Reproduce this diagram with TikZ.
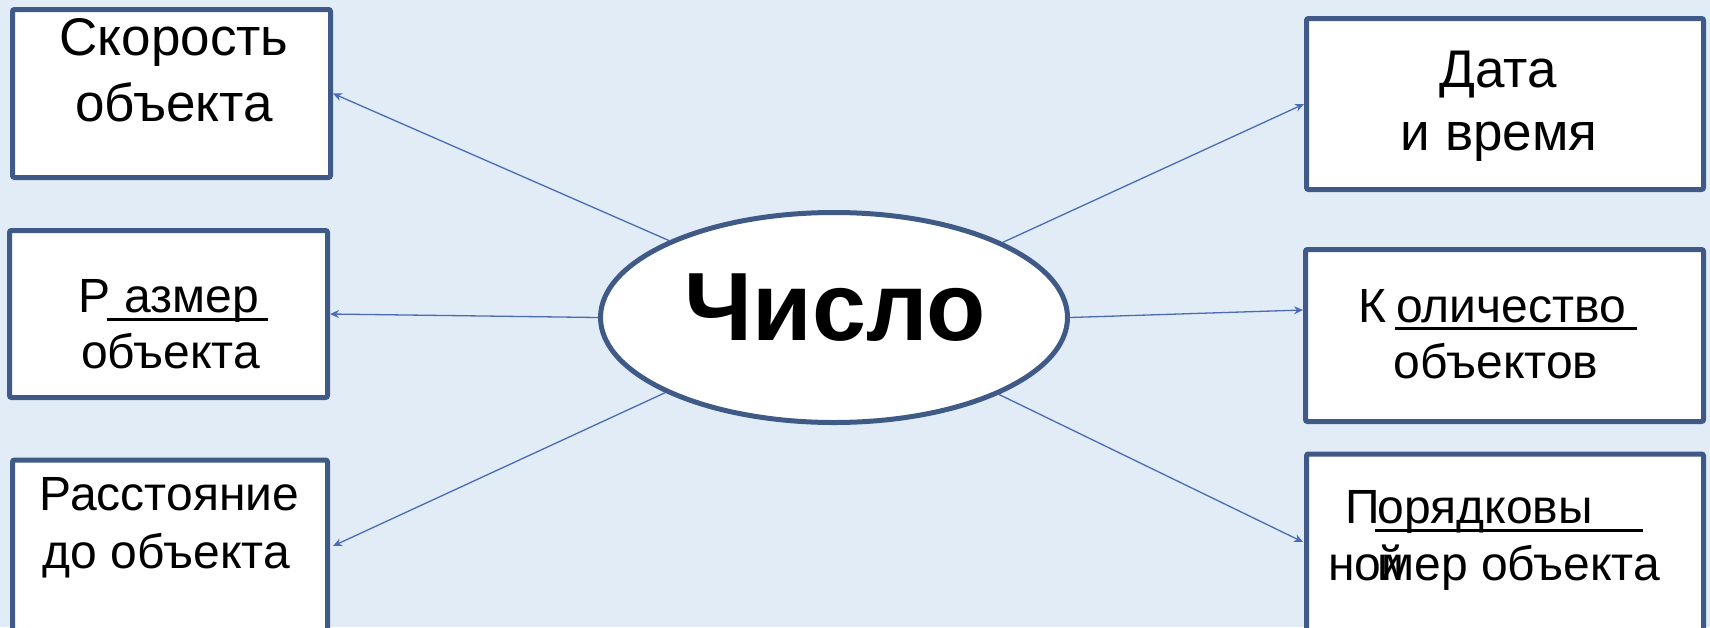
\documentclass[tikz,border=0pt]{standalone}
\usepackage{fontspec}
\setmainfont{Liberation Sans}
\usetikzlibrary{shapes.geometric,arrows.meta}
\definecolor{bgc}{HTML}{E2ECF7}
\definecolor{bordc}{HTML}{405A88}
\definecolor{linec}{HTML}{4A6BB8}
\tikzset{
  box/.style={draw=bordc, line width=5pt, fill=white, rounded corners=2pt, inner sep=0pt},
  oval/.style={ellipse, draw=bordc, line width=5pt, fill=white, inner sep=0pt},
  conn/.style={draw=linec, line width=1.3pt, -{Stealth[length=9pt,width=8pt,inset=3pt]}},
  txt/.style={inner sep=0pt, anchor=base, font=\fontsize{48}{48}\selectfont},
  txtbig/.style={inner sep=0pt, anchor=base, font=\fontsize{53}{53}\selectfont},
  txtw/.style={inner sep=0pt, anchor=base west, font=\fontsize{48}{48}\selectfont},
  uline/.style={draw=black, line width=3pt}
}
\begin{document}
\begin{tikzpicture}[x=1pt,y=-1pt]
\useasboundingbox (0,0) rectangle (1710,627);
\clip (0,0) rectangle (1710,627);
\fill[bgc] (0,0) rectangle (1710,627);

% central ellipse
\node[oval, minimum width=467pt, minimum height=210pt] (ell) at (834,317.5) {};
\node[inner sep=0pt, anchor=base, font=\fontsize{97}{97}\selectfont\bfseries] (title) at (835,340) {Число};

% boxes
\node[box, minimum width=318pt, minimum height=168pt] (b1) at (171.5,93.5) {};
\node[box, minimum width=318pt, minimum height=167pt] (b2) at (168.5,314) {};
\node[box, minimum width=315pt, minimum height=190pt] (b3) at (170,555) {};
\node[box, minimum width=397pt, minimum height=171pt] (b4) at (1505,104) {};
\node[box, minimum width=398pt, minimum height=172pt] (b5) at (1504.5,335.5) {};
\node[box, minimum width=397pt, minimum height=190pt] (b6) at (1505,549) {};

% texts
\node[txtbig] (t1a) at (174,55) {Скорость};
\node[txtbig] (t1b) at (174,121) {объекта};

\node[txtw] (t2a) at (78,312) {Р\hspace{14pt}азмер};
\draw[uline] (107,319) -- (268,319);
\node[txt] (t2b) at (170.5,368) {объекта};

\node[txt] (t3a) at (169.5,510) {Расстояние};
\node[txt] (t3b) at (166.5,568) {до объекта};

\node[txtbig] (t4a) at (1498,87) {Дата};
\node[txtbig] (t4b) at (1499,150) {и время};

\node[txtw] (t5a) at (1358,322) {К\hspace{10pt}оличество};
\draw[uline] (1395,328) -- (1637,328);
\node[txt] (t5b) at (1496,378) {объектов};

\node[txtw] (t6a) at (1345,523) {П\hspace{-2pt}орядковы};
\draw[uline] (1375,530) -- (1643,530);
\node[txtw] (t6b) at (1328,580) {но\makebox[0pt][l]{\hspace{-4pt}й}мер объекта};

% connectors
\coordinate (e3) at (333,546);
\coordinate (e5) at (1303,310);
\coordinate (e6) at (1303,542);
\draw[conn] (ell.155.7) -- (b1.east);
\draw[conn] (ell.west) -- (b2.east);
\draw[conn] (ell.204.3) -- (e3);
\draw[conn] (ell.24.2) -- (b4.west);
\draw[conn] (ell.east) -- (e5);
\draw[conn] (ell.335.8) -- (e6);
\end{tikzpicture}
\end{document}
